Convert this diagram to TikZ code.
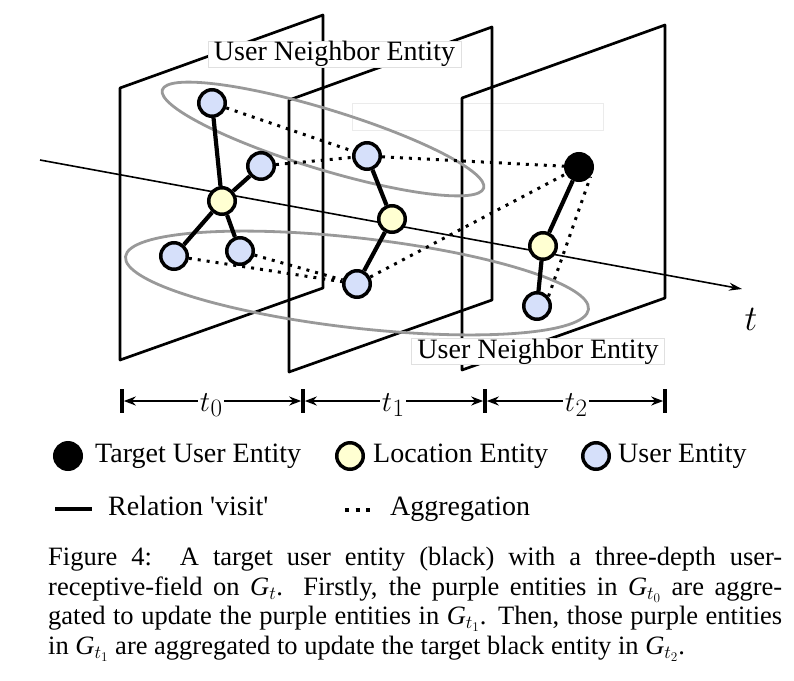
\RequirePackage{fix-cm}
\documentclass[tikz,border=0pt]{standalone}
\usepackage{fontspec}
\setmainfont{Liberation Serif}
\usetikzlibrary{arrows.meta}

\definecolor{userblue}{HTML}{D6E0FA}
\definecolor{locyellow}{HTML}{FFFFD2}

\tikzset{
    plane/.style = {line width=2.7pt, line join=round},
    user/.style = {circle, draw, line width=3.5pt, fill=userblue, minimum size=26.5pt, inner sep=0pt},
    location/.style = {user, fill=locyellow},
    target/.style = {user, fill=black},
    visit/.style = {line width=4.2pt},
    aggr/.style = {line width=3pt, dash pattern=on 3pt off 6pt},
    neighbor/.style = {draw=black!40, line width=2.8pt},
    tag/.style = {draw=black!12, fill=white, line width=0.8pt, inner sep=0pt,
        minimum width=253pt, minimum height=26pt, font=\fontsize{28}{30}\selectfont},
    legend/.style = {anchor=base west, inner sep=0pt, font=\fontsize{28}{30}\selectfont},
    interval/.style = {line width=2pt, shorten <=1.8pt, shorten >=1.8pt,
        {Stealth[length=12pt, width=9pt]}-{Stealth[length=12pt, width=9pt]}},
}
\newcommand{\slicelabel}[1]{$t$\kern0.5pt\raisebox{-5pt}{\fontsize{25}{25}\selectfont$#1$}}

\begin{document}
\begin{tikzpicture}[x=1pt, y=-1pt]
    \useasboundingbox (0,0) rectangle (794,680);

    \draw[black!8, line width=0.8pt, fill=white] (352,103) rectangle (603,130);

    % time slices
    \foreach \dx/\dy in {0/0, 169/12, 342/10}
        \draw[plane] (120+\dx,88+\dy) -- (323+\dx,15+\dy) -- (323+\dx,288+\dy)
            -- (120+\dx,360+\dy) -- cycle;

    \coordinate (axisstart) at (40,160);
    \coordinate (axisend) at (742,289);
    \draw[line width=1.6pt, -{Stealth[length=13pt, width=8pt]}] (axisstart) -- (axisend);
    \node[font=\fontsize{36}{38}\selectfont] (tlabel) at (751,319) {$t$};

    % neighbourhoods
    \draw[neighbor, rotate around={-17:(323,139)}] (323,139) ellipse [x radius=168, y radius=30];
    \draw[neighbor, rotate around={-6.5:(357,283)}] (357,283) ellipse [x radius=233, y radius=45];
    \node[tag] (toptag) at (334.5,54) {User Neighbor Entity};
    \node[tag] (bottag) at (538,351.5) {User Neighbor Entity};

    % entities
    \node[user] (u1) at (212,103) {};
    \node[user] (u2) at (261,166) {};
    \node[location] (loc1) at (222,201) {};
    \node[user] (u3) at (174,256) {};
    \node[user] (u4) at (240,251) {};
    \node[user] (u5) at (367,156) {};
    \node[location] (loc2) at (392,219) {};
    \node[user] (u6) at (357,284) {};
    \node[target] (goal) at (579,167) {};
    \node[location] (loc3) at (543,246) {};
    \node[user] (u7) at (537,306) {};

    \draw[visit] (u1) -- (loc1) (u2) -- (loc1) (loc1) -- (u3) (loc1) -- (u4)
        (u5) -- (loc2) (loc2) -- (u6) (goal) -- (loc3) (loc3) -- (u7);
    \draw[aggr] (u1) -- (u5) (u2) -- (u5) (u3) -- (u6) (u4) -- (u6)
        (u5) -- (goal) (u6) -- (goal) (u7.40) -- (goal.-40);

    % time intervals
    \foreach \x [count=\i from 0] in {122,303,485,665} {
        \coordinate (tick\i) at (\x,401);
        \draw[line width=3.8pt] (\x,389) -- (\x,413);
    }
    \foreach \i/\j/\x in {0/1/211, 1/2/393, 2/3/576} {
        \draw[interval] (tick\i) -- (tick\j);
        \node[fill=white, anchor=base, inner sep=1.5pt, font=\fontsize{29}{31}\selectfont]
            (span\i) at (\x,411) {\slicelabel{\i}};
    }

    % legend
    \node[target] (keygoal) at (68,456) {};
    \node[legend] (keygoaltext) at (95,462) {Target User Entity};
    \node[location] (keyloc) at (350,456) {};
    \node[legend] (keyloctext) at (373,462) {Location Entity};
    \node[user] (keyuser) at (596,456) {};
    \node[legend] (keyusertext) at (618,462) {User Entity};
    \coordinate (keyvisitA) at (55,509);
    \coordinate (keyvisitB) at (92,509);
    \draw[visit] (keyvisitA) -- (keyvisitB);
    \node[legend] (keyvisittext) at (108,515) {Relation \textquotesingle visit\textquotesingle};
    \coordinate (keyaggrA) at (345,510);
    \coordinate (keyaggrB) at (370,510);
    \draw[line width=4pt, dash pattern=on 4pt off 6.5pt] (keyaggrA) -- (keyaggrB);
    \node[legend] (keyaggrtext) at (390,515) {Aggregation};

    % caption
    \node[anchor=north west, inner sep=0pt, font=\fontsize{26.5}{29.7}\selectfont]
        (caption) at (48,547) {\vbox{%
        \hbox to 734pt{Figure 4:\ \ A target user entity (black) with a three-depth user-}
        \hbox to 734pt{receptive-field on {\itshape G}$_{t}$. Firstly, the purple entities in {\itshape G}$_{t_0}$ are aggre-}
        \hbox to 734pt{gated to update the purple entities in {\itshape G}$_{t_1}$. Then, those purple entities}
        \hbox{in {\itshape G}$_{t_1}$ are aggregated to update the target black entity in {\itshape G}$_{t_2}$.}}};
\end{tikzpicture}
\end{document}
